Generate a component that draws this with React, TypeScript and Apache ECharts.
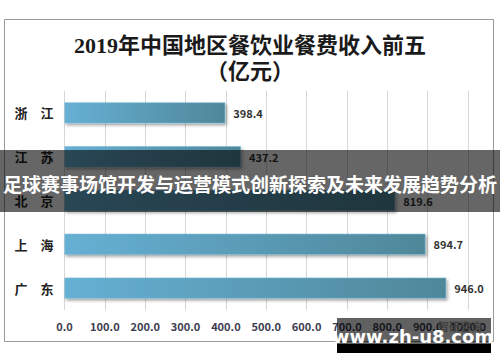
import React, { useEffect, useRef } from "react";
import * as echarts from "echarts";

const titleLine1 = "2019年中国地区餐饮业餐费收入前五";
const titleLine2 = "（亿元）";
const regions = ["浙江", "江苏", "北京", "上海", "广东"];
const revenue = [398.4, 437.2, 819.6, 894.7, 946.0];
const axisMin = 0;
const axisMax = 1000;
const axisStep = 100;
const bannerText = "足球赛事场馆开发与运营模式创新探索及未来发展趋势分析";
const watermarkText = "www.zh-u8.com";
const logoText = "智研咨询";

export default function App() {
  const ref = useRef<HTMLDivElement>(null);
  useEffect(() => {
    if (!ref.current) return;
    const chart = echarts.init(ref.current, null, { renderer: "svg" });
    const cjk = "'Liberation Serif', 'Noto Sans CJK SC', serif";
    const sans = "'Noto Sans CJK SC', 'Noto Sans', sans-serif";
    chart.setOption({
      animation: false,
      backgroundColor: "#ffffff",
      title: {
        text: titleLine1 + "\n" + titleLine2,
        left: "center",
        top: 27,
        textStyle: {
          fontFamily: cjk,
          fontSize: 22,
          fontWeight: "bold",
          color: "#1a1a1a",
          lineHeight: 26,
        },
      },
      grid: { left: 64.5, right: 32, top: 91, height: 219, containLabel: false },
      xAxis: {
        type: "value",
        min: axisMin,
        max: axisMax,
        interval: axisStep,
        axisLine: { show: false },
        axisTick: { show: false },
        splitLine: { show: true, lineStyle: { color: "#d6d6d6", width: 1 } },
        axisLabel: {
          margin: 10,
          fontFamily: sans,
          fontSize: 11,
          fontWeight: "bold",
          color: "#3c3c50",
          formatter: (v: number) => v.toFixed(1),
        },
      },
      yAxis: {
        type: "category",
        inverse: true,
        data: regions,
        axisLine: { show: false },
        axisTick: { show: false },
        axisLabel: {
          margin: 11,
          fontFamily: sans,
          fontSize: 13,
          fontWeight: "bold",
          color: "#222222",
          formatter: (v: string) => v.split("").join("　"),
        },
      },
      series: [
        {
          type: "bar",
          data: revenue,
          barWidth: 21,
          itemStyle: {
            color: new echarts.graphic.LinearGradient(0, 0, 1, 0, [
              { offset: 0, color: "#66b0d4" },
              { offset: 1, color: "#4f8799" },
            ]),
            borderColor: "#7cbcd8",
            borderWidth: 0.6,
            shadowColor: "rgba(0,0,0,0.35)",
            shadowBlur: 3,
            shadowOffsetX: 1.5,
            shadowOffsetY: 2,
          },
          label: {
            show: true,
            position: "right",
            distance: 8,
            fontFamily: sans,
            fontSize: 11,
            fontWeight: "bold",
            color: "#333333",
            formatter: (p: any) => Number(p.value).toFixed(1),
          },
        },
      ],
      graphic: [
        {
          type: "rect",
          z: 1,
          shape: { x: 4.5, y: 19.5, width: 489, height: 322 },
          style: { fill: "none", stroke: "#9a9a9a", lineWidth: 1 },
        },
        {
          type: "text",
          z: 50,
          x: 438,
          y: 326,
          style: {
            text: logoText,
            fill: "#aaaaaa",
            font: "bold 11px 'Noto Sans CJK SC'",
            verticalAlign: "middle",
          },
        },
        {
          type: "rect",
          z: 100,
          shape: { x: 0, y: 150, width: 500, height: 62 },
          style: { fill: "rgba(0,0,0,0.6)" },
        },
        {
          type: "text",
          z: 101,
          x: 250,
          y: 183,
          style: {
            text: bannerText,
            fill: "#ffffff",
            font: "bold 19px 'Noto Sans CJK SC'",
            align: "center",
            verticalAlign: "middle",
          },
        },
        {
          type: "rect",
          z: 100,
          shape: { x: 337, y: 318, width: 154, height: 26 },
          style: { fill: "rgba(0,0,0,0.62)" },
        },
        {
          type: "rect",
          z: 100,
          shape: { x: 337, y: 344, width: 154, height: 9 },
          style: { fill: "#000000" },
        },
        {
          type: "text",
          z: 101,
          x: 413,
          y: 336,
          style: {
            text: watermarkText,
            fill: "#ffffff",
            font: "bold 18px 'DejaVu Sans', 'Noto Sans'",
            align: "center",
            verticalAlign: "middle",
          },
        },
      ],
    });
    return () => chart.dispose();
  }, []);
  return (
    <div
      ref={ref}
      style={{ position: "fixed", left: 0, top: 0, width: 500, height: 362 }}
    />
  );
}
